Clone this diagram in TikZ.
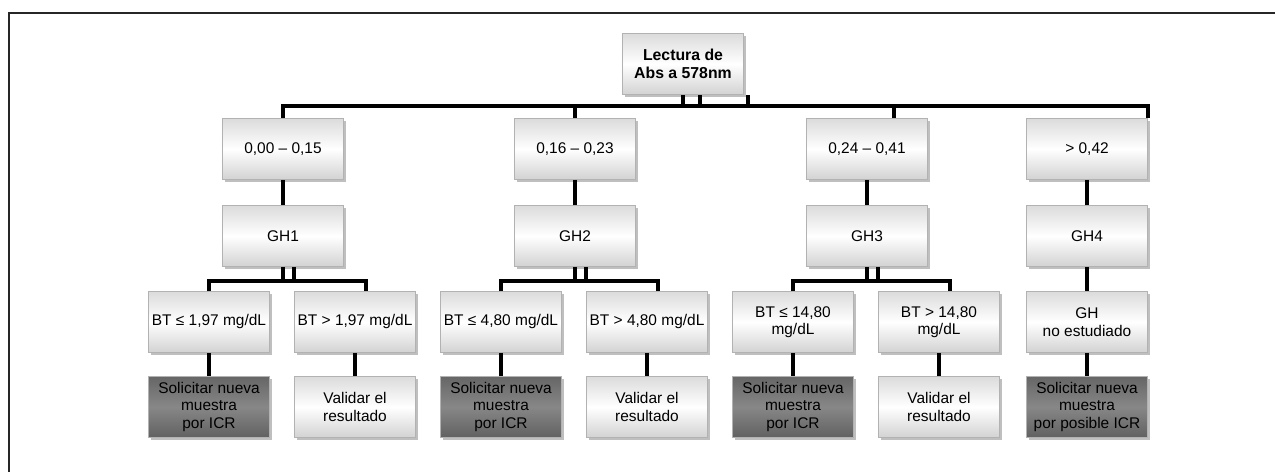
\documentclass[tikz,border=0pt]{standalone}
\usepackage{fontspec}
\setmainfont{Liberation Sans}
\usetikzlibrary{shadows}

\tikzset{
  box/.style={draw=gray!60, line width=0.4pt,
    top color=gray!28, bottom color=gray!35, middle color=white,
    drop shadow={shadow xshift=1.4pt, shadow yshift=-1.4pt, opacity=.5},
    minimum width=2.42cm, minimum height=1.22cm, inner xsep=1pt,
    align=center, font=\fontsize{8.8}{10}\selectfont},
  dbox/.style={box, top color=black!60, bottom color=black!62, middle color=black!47},
  conn/.style={line width=2pt},
}

\begin{document}
\begin{tikzpicture}[x=0.02cm, y=-0.02cm]
  \useasboundingbox (0,0) rectangle (1275,472);
  % frame
  \draw[gray!30!black, line width=1.2pt] (9,472) -- (9,13) -- (1275,13);

  \node[box, font=\bfseries\fontsize{9}{10.5}\selectfont] (root) at (683,64) {Lectura de\\Abs a 578nm};

  \node[box] (a1) at (283,149)  {0,00 – 0,15};
  \node[box] (a2) at (575,149)  {0,16 – 0,23};
  \node[box] (a3) at (867,149)  {0,24 – 0,41};
  \node[box] (a4) at (1087,149) {> 0,42};

  \node[box] (g1) at (283,236)  {GH1};
  \node[box] (g2) at (575,236)  {GH2};
  \node[box] (g3) at (867,236)  {GH3};
  \node[box] (g4) at (1087,236) {GH4};

  \node[box] (b1) at (209,322)  {BT ≤ 1,97 mg/dL};
  \node[box] (b2) at (355,322)  {BT > 1,97 mg/dL};
  \node[box] (b3) at (501,322)  {BT ≤ 4,80 mg/dL};
  \node[box] (b4) at (647,322)  {BT > 4,80 mg/dL};
  \node[box] (b5) at (793,322)  {BT ≤ 14,80\\mg/dL};
  \node[box] (b6) at (939,322)  {BT > 14,80\\mg/dL};
  \node[box] (b7) at (1087,322) {GH\\no estudiado};

  \node[dbox] (c1) at (209,407)  {Solicitar nueva\\muestra\\por ICR};
  \node[box]  (c2) at (355,407)  {Validar el\\resultado};
  \node[dbox] (c3) at (501,407)  {Solicitar nueva\\muestra\\por ICR};
  \node[box]  (c4) at (647,407)  {Validar el\\resultado};
  \node[dbox] (c5) at (793,407)  {Solicitar nueva\\muestra\\por ICR};
  \node[box]  (c6) at (939,407)  {Validar el\\resultado};
  \node[dbox] (c7) at (1087,407) {Solicitar nueva\\muestra\\por posible ICR};

  \coordinate (bus) at (0,106);
  \coordinate (sub) at (0,281);

  % top bus
  \coordinate (a3t) at ([xshift=0.54cm]a3.north);
  \draw[conn] (a1.north) -- (a1.north |- bus) -- (a4.north east |- bus) -- (a4.north east);
  \draw[conn] (a2.north) -- (a2.north |- bus);
  \draw[conn] (a3t) -- (a3t |- bus);
  \foreach \dx in {0cm,0.34cm,1.3cm}
    \draw[conn] ([xshift=\dx]root.south) -- ++(0,12);

  \foreach \i in {1,...,4}
    \draw[conn] (a\i) -- (g\i);

  % sub buses
  \foreach \g/\l/\r in {g1/b1/b2,g2/b3/b4,g3/b5/b6}{
    \coordinate (rt) at ([xshift=0.22cm]\r.north);
    \draw[conn] (\l.north) -- (\l.north |- sub) -- (rt |- sub) -- (rt);
    \draw[conn] (\g.south) -- ++(0,15);
    \draw[conn] ([xshift=0.22cm]\g.south) -- ++(0,15);
  }
  \draw[conn] (g4) -- (b7);

  \foreach \i in {1,...,7}
    \draw[conn] (b\i) -- (c\i);

\end{tikzpicture}
\end{document}
